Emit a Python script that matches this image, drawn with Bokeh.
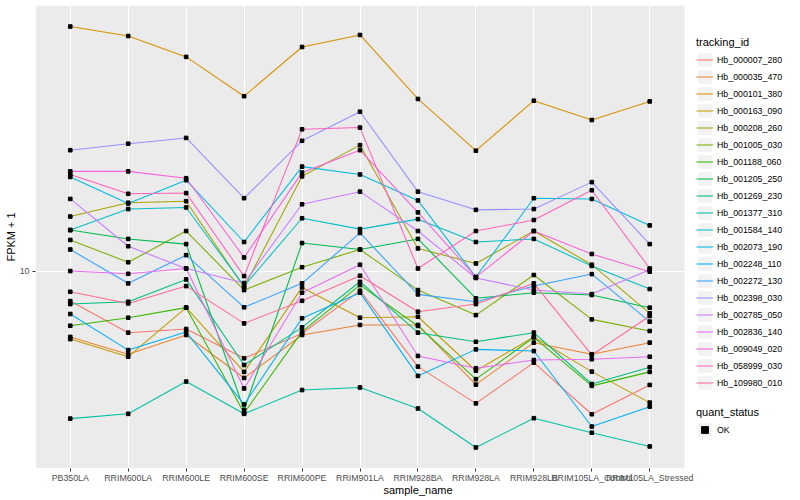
import math
from bokeh.plotting import figure
from bokeh.models import (Range1d, FixedTicker, Legend, LegendItem, BoxAnnotation,
                          ColumnDataSource, BasicTickFormatter)
from bokeh.embed import file_html
from bokeh.resources import INLINE

samples = ["PB350LA", "RRIM600LA", "RRIM600LE", "RRIM600SE", "RRIM600PE", "RRIM901LA",
           "RRIM928BA", "RRIM928LA", "RRIM928LB", "RRIM105LA_Control", "RRIM105LA_Stressed"]

tracking_ids = ["Hb_000007_280", "Hb_000035_470", "Hb_000101_380", "Hb_000163_090",
                "Hb_000208_260", "Hb_001005_030", "Hb_001188_060", "Hb_001205_250",
                "Hb_001269_230", "Hb_001377_310", "Hb_001584_140", "Hb_002073_190",
                "Hb_002248_110", "Hb_002272_130", "Hb_002398_030", "Hb_002785_050",
                "Hb_002836_140", "Hb_009049_020", "Hb_058999_030", "Hb_109980_010"]

colors = ["#F8766D", "#EA8331", "#D89000", "#C09B00", "#A3A500", "#7CAE00", "#39B600",
          "#00BB4E", "#00BF7D", "#00C1A3", "#00BFC4", "#00BAE0", "#00B0F6", "#35A2FF",
          "#9590FF", "#C77CFF", "#E76BF3", "#FA62DB", "#FF62BC", "#FF6C91"]

# FPKM + 1 per sample (order of `samples`)
hb_000007_280 = [7.94, 6.23, 6.41, 5.12, 6.19, 8.60, 4.80, 3.62, 4.95, 3.33, 4.17]
hb_000035_470 = [6.03, 5.28, 6.12, 4.40, 6.12, 6.61, 6.61, 4.18, 5.77, 5.28, 5.77]
hb_000101_380 = [65.4, 60.8, 51.8, 38.3, 55.9, 61.3, 37.5, 25.2, 37.0, 31.9, 36.8]
hb_000163_090 = [5.93, 5.18, 7.55, 4.61, 8.82, 6.99, 7.04, 4.65, 6.03, 4.62, 3.64]
hb_000208_260 = [15.2, 16.9, 17.1, 8.84, 20.7, 26.3, 11.9, 10.6, 13.6, 10.5, 7.23]
hb_001005_030 = [12.7, 10.7, 13.6, 8.64, 10.3, 11.8, 8.64, 7.13, 9.70, 6.90, 6.31]
hb_001188_060 = [6.57, 6.99, 7.55, 3.36, 6.28, 8.98, 6.56, 4.36, 6.01, 4.14, 4.61]
hb_001205_250 = [13.7, 12.8, 12.3, 3.44, 12.4, 11.8, 12.8, 8.11, 8.47, 8.32, 7.55]
hb_001269_230 = [7.76, 7.90, 9.38, 4.86, 6.49, 9.21, 6.23, 5.81, 6.23, 4.20, 4.78]
hb_001377_310 = [3.22, 3.34, 4.28, 3.34, 4.01, 4.09, 3.48, 2.58, 3.23, 2.89, 2.60]
hb_001584_140 = [13.7, 16.1, 16.3, 8.91, 15.0, 13.8, 14.9, 12.5, 12.8, 10.4, 8.71]
hb_002073_190 = [20.6, 16.8, 20.1, 12.5, 22.3, 21.0, 17.2, 9.55, 17.5, 17.4, 14.2]
hb_002248_110 = [7.19, 5.45, 6.26, 3.59, 6.96, 8.47, 4.47, 5.48, 5.41, 3.03, 3.53]
hb_002272_130 = [11.8, 9.10, 11.3, 7.57, 9.10, 13.4, 8.36, 7.90, 8.91, 9.77, 6.78]
hb_002398_030 = [25.3, 26.6, 27.8, 17.5, 27.2, 34.0, 18.4, 16.0, 16.1, 19.8, 12.3]
hb_002785_050 = [17.4, 12.1, 10.2, 9.12, 16.7, 18.4, 13.6, 9.48, 8.64, 8.38, 10.1]
hb_002836_140 = [10.0, 9.79, 10.2, 4.06, 8.47, 10.5, 5.21, 4.74, 5.05, 5.08, 5.18]
hb_009049_020 = [21.5, 21.5, 20.4, 11.1, 21.3, 25.3, 15.7, 9.55, 13.6, 11.4, 9.95]
hb_058999_030 = [21.0, 18.1, 18.2, 9.62, 29.7, 30.1, 10.2, 13.6, 14.8, 18.6, 10.2]
hb_109980_010 = [8.53, 7.80, 8.91, 6.69, 7.96, 9.65, 7.32, 7.76, 9.10, 5.25, 7.08]

series = [hb_000007_280, hb_000035_470, hb_000101_380, hb_000163_090, hb_000208_260,
          hb_001005_030, hb_001188_060, hb_001205_250, hb_001269_230, hb_001377_310,
          hb_001584_140, hb_002073_190, hb_002248_110, hb_002272_130, hb_002398_030,
          hb_002785_050, hb_002836_140, hb_009049_020, hb_058999_030, hb_109980_010]

y_ticks = [10]
quant_status = "OK"

FONT = "Liberation Sans"
W, H = 800, 500
LEFT, TOP, BOTTOM = 35, 5, 32          # border sizes around the frame
PANEL_RIGHT = 684                      # right edge of the grey panel (px)

# discrete x positions, ggplot-like 0.6 expansion
xpos = list(range(len(samples)))
x_lo, x_hi = -0.6, len(samples) - 1 + 0.6
x_end = x_lo + (x_hi - x_lo) * (W - LEFT) / (PANEL_RIGHT - LEFT)

all_vals = [v for s in series for v in s]
lmin, lmax = math.log10(min(all_vals)), math.log10(max(all_vals))
pad = 0.05 * (lmax - lmin)

p = figure(width=W, height=H,
           x_range=Range1d(x_lo, x_end),
           y_axis_type="log", y_range=Range1d(10 ** (lmin - pad), 10 ** (lmax + pad)),
           output_backend="svg", toolbar_location=None,
           min_border_left=LEFT, min_border_right=0, min_border_top=TOP,
           min_border_bottom=BOTTOM)

p.background_fill_color = "white"
p.border_fill_color = "white"
p.outline_line_color = None

panel = BoxAnnotation(left=x_lo, right=x_hi, fill_color="#EBEBEB", fill_alpha=1.0,
                      line_color=None, level="image")
p.add_layout(panel)

p.xgrid.ticker = FixedTicker(ticks=xpos)
p.xgrid.grid_line_color = "white"
p.xgrid.grid_line_width = 1.1
p.ygrid.ticker = FixedTicker(ticks=y_ticks)
p.ygrid.grid_line_color = "white"
p.ygrid.grid_line_width = 1.1
p.ygrid.minor_grid_line_color = None

p.xaxis.ticker = FixedTicker(ticks=xpos)
p.xaxis.major_label_overrides = {i: s for i, s in zip(xpos, samples)}
p.yaxis.ticker = FixedTicker(ticks=y_ticks)
p.yaxis.formatter = BasicTickFormatter()
for ax in (p.xaxis, p.yaxis):
    ax.axis_line_color = None
    ax.major_tick_line_color = "#333333"
    ax.major_tick_out = 3
    ax.major_tick_in = 0
    ax.minor_tick_line_color = None
    ax.major_label_text_font = FONT
    ax.major_label_text_font_size = "8.8px"
    ax.major_label_text_color = "#4D4D4D"
    ax.axis_label_text_font = FONT
    ax.axis_label_text_font_size = "11px"
    ax.axis_label_text_font_style = "normal"
    ax.axis_label_text_color = "black"
p.xaxis.axis_label = "sample_name"
p.yaxis.axis_label = "FPKM + 1"
p.xaxis.major_label_standoff = 1
p.xaxis.axis_label_standoff = -2
p.yaxis.major_label_standoff = 3
p.yaxis.axis_label_standoff = 0

# legend-key background: zero-size rect (draws nothing in the plot itself)
key_bg = p.rect(x=[xpos[0]], y=y_ticks, width=0, height=0,
                fill_color="#F2F2F2", line_color=None)

line_renderers = []
for vals, col in zip(series, colors):
    r = p.line(x=xpos, y=vals, line_color=col, line_width=1.07)
    line_renderers.append(r)

pts = ColumnDataSource(dict(x=[i for _ in series for i in xpos],
                            y=[v for vals in series for v in vals]))
pt_r = p.scatter(x="x", y="y", source=pts, marker="square", size=3.6,
                 fill_color="black", line_color="black")

def style_legend(leg):
    leg.title_text_font = FONT
    leg.title_text_font_size = "11px"
    leg.title_text_font_style = "normal"
    leg.title_text_color = "black"
    leg.title_standoff = 3
    leg.label_text_font = FONT
    leg.label_text_font_size = "8.8px"
    leg.label_text_color = "black"
    leg.glyph_width = 17
    leg.glyph_height = 17
    leg.label_height = 17
    leg.label_standoff = 4
    leg.spacing = 0
    leg.padding = 0
    leg.margin = 0
    leg.border_line_color = None
    leg.background_fill_alpha = 0

frame_bottom = H - BOTTOM
leg1 = Legend(items=[LegendItem(label=t, renderers=[key_bg, r])
                     for t, r in zip(tracking_ids, line_renderers)],
              title="tracking_id", location=(696 - LEFT, frame_bottom - 391))
style_legend(leg1)
p.add_layout(leg1)

leg2 = Legend(items=[LegendItem(label=quant_status, renderers=[key_bg, pt_r])],
              title="quant_status", location=(696 - LEFT, frame_bottom - 438))
style_legend(leg2)
p.add_layout(leg2)

open("out.html", "w").write(file_html(p, INLINE))
